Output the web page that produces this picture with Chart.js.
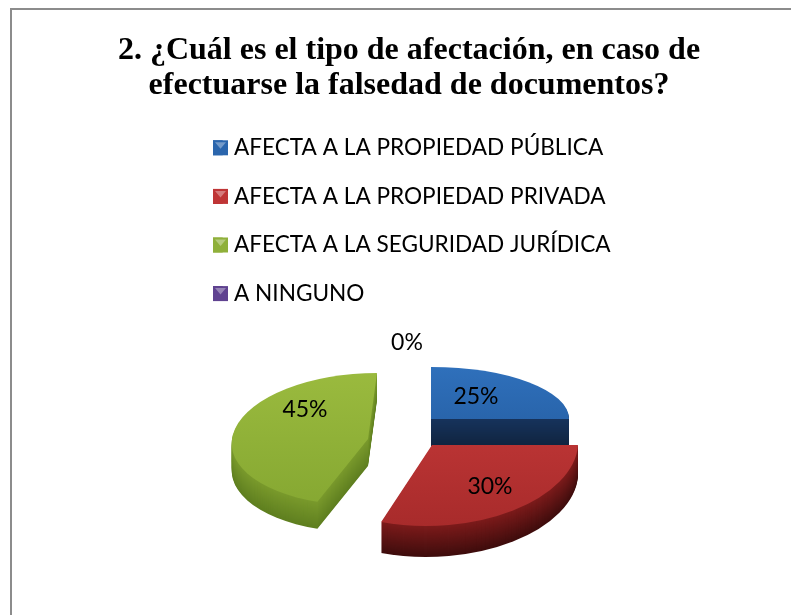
<!DOCTYPE html>
<html><head><meta charset="utf-8">
<style>html,body{margin:0;padding:0;background:#fff}#w{position:absolute;left:0;top:0;width:791px;height:615px}</style>
<script src="https://cdn.jsdelivr.net/npm/chart.js@4/dist/chart.umd.js"></script>
</head><body><div id="w"><canvas id="c" width="791" height="615"></canvas></div>
<script>
const categories=["AFECTA A LA PROPIEDAD PÚBLICA","AFECTA A LA PROPIEDAD PRIVADA","AFECTA A LA SEGURIDAD JURÍDICA","A NINGUNO"];
const values=[25,30,45,0];
const colors=["#2b66ad","#bf3536","#8fb03a","#5f4290"];
const titleLines=["2. ¿Cuál es el tipo de afectación, en caso de","efectuarse la falsedad de documentos?"];
// per-slice presentation: explode centre, ellipse radii, shear, extrusion depth and shades
const looks=[
 {cx:431,cy:419,rx:138,ry:52,sh:0,depth:27,top:["#2f70bb","#22599c"],side:["#16335c","#102440"]},
 {cx:432,cy:445,rx:146,ry:81,sh:-6,depth:31,top:["#cb3c3c","#a82b2b"],side:["#7d1b1b","#3f0d0d"]},
 {cx:368,cy:439,rx:136,ry:66,sh:-9,depth:27,top:["#9aba3e","#86a832"],side:["#7a9a2c","#5f7f20"]},
 null];
const order=[0,2,1];
const labelAt=[[476,397],[490,487],[305,410],[407,343]];
const LEG={x:213,y:110.5,pad:26};
const pie3d={id:'pie3d',
 beforeDraw(ch){const x=ch.ctx;x.save();x.strokeStyle='#8c8c8c';x.lineWidth=2;x.strokeRect(11,9,900,900);x.restore();
  const l=ch.legend,w=l.width,h=l.height;
  l.left=LEG.x-LEG.pad;l.right=l.left+w;l.top=LEG.y;l.bottom=l.top+h;l.adjustHitBoxes();},
 beforeDatasetDraw(ch){
  const ctx=ch.ctx,arcs=ch.getDatasetMeta(0).data;
  const plain=(fill)=>({offset:0,spacing:0,borderWidth:0,borderColor:'transparent',borderAlign:'center',circular:true,borderRadius:0,angle:0,backgroundColor:fill});
  order.forEach(i=>{
   const a=arcs[i],L=looks[i];if(!L)return;
   const R=a.outerRadius,o=a.options;
   const put=(dy,fill)=>{ctx.save();
    ctx.translate(L.cx,L.cy+dy);ctx.transform(L.rx/R,0,L.sh/R,L.ry/R,0,0);ctx.translate(-a.x,-a.y);
    a.options=plain(fill);a.draw(ctx);a.options=o;ctx.restore();};
   const mix=(c1,c2,t)=>{const p=s=>[1,3,5].map(k=>parseInt(s.substr(k,2),16));const A=p(c1),B=p(c2);
     return 'rgb('+A.map((v,k)=>Math.round(v+(B[k]-v)*t)).join(',')+')';};
   for(let d=L.depth;d>0;d--)put(d,mix(L.side[0],L.side[1],d/L.depth));
   const g=ctx.createLinearGradient(0,a.y-R,0,a.y+R);
   g.addColorStop(0,L.top[0]);g.addColorStop(1,L.top[1]);
   put(0,g);
  });
  return false;
 },
 afterDatasetsDraw(ch){
  const ctx=ch.ctx;ctx.save();ctx.fillStyle='#000';ctx.font='23px Lato';ctx.textAlign='center';ctx.textBaseline='middle';
  values.forEach((v,i)=>ctx.fillText(v+'%',labelAt[i][0],labelAt[i][1]));
  ctx.restore();
 },
 afterDraw(ch){
  const ctx=ch.ctx;ctx.save();
  ch.legend.legendHitBoxes.forEach((b,i)=>{const s=15,x=LEG.x,y=b.top+(b.height-s)/2;
   ctx.fillStyle=colors[i];ctx.fillRect(x,y,s,s);
   ctx.fillStyle='rgba(255,255,255,.35)';
   ctx.beginPath();ctx.moveTo(x+2,y+2);ctx.lineTo(x+s-2,y+2);ctx.lineTo(x+s/2,y+s/2+1);ctx.closePath();ctx.fill();});
  ctx.restore();
 }};
new Chart(document.getElementById('c'),{type:'pie',
 data:{labels:categories,datasets:[{data:values,backgroundColor:colors,borderWidth:0}]},
 plugins:[pie3d],
 options:{responsive:false,animation:false,rotation:0,
  layout:{padding:{top:33,left:27}},
  plugins:{tooltip:{enabled:false},
   title:{display:true,text:titleLines,color:'#000',font:{family:'"Liberation Serif"',size:32,weight:'bold',lineHeight:1.094},padding:{top:0,bottom:15}},
   legend:{position:'left',align:'start',maxWidth:520,labels:{color:'#000',boxWidth:9.7,boxHeight:15,padding:26,font:{family:'Lato',size:22.6}}}}}
});
</script></body></html>
